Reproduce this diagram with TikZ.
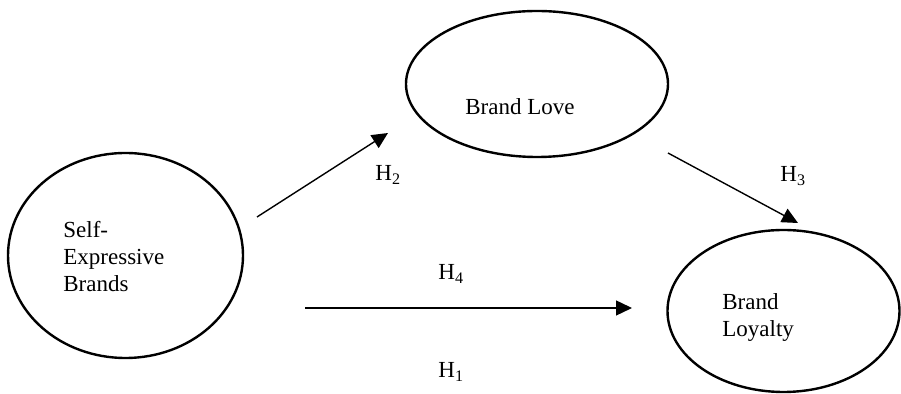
\documentclass[tikz,border=0pt]{standalone}
\usepackage{fontspec}
\setmainfont{Liberation Serif}
\usetikzlibrary{arrows.meta,shapes.geometric}

\begin{document}
\begin{tikzpicture}[x=0.5pt,y=-0.5pt,
    construct/.style={draw,ellipse,line width=1.2pt,inner sep=0pt},
    construct text/.style={font=\fontsize{11.5}{13.5}\selectfont,inner sep=0pt,align=left},
    hyp/.style={font=\fontsize{11.5}{13.5}\selectfont,inner sep=0pt,anchor=base west},
    hyparrow/.style={-{Triangle[length=8pt,width=7.5pt]},line width=0.7pt}]
    \useasboundingbox (0,0) rectangle (901,394);

    % Draw the constructs
    \node[construct,minimum width=117.5pt,minimum height=102.5pt] (seb) at (125.5,255.5) {};
    \node[construct,minimum width=131pt,minimum height=73pt] (love) at (537,84) {};
    \node[construct,minimum width=116pt,minimum height=81pt] (loyal) at (783.5,311) {};

    % Construct names
    \node[construct text,anchor=north west] (sebtext) at (63,221) {Self-\\Expressive\\Brands};
    \node[construct text,anchor=base west] (lovetext) at (465,115) {Brand Love};
    \node[construct text,anchor=north west] (loyaltext) at (722,293) {Brand\\Loyalty};

    % Arrow end points
    \coordinate (h2s) at (257,217);
    \coordinate (h2e) at (388,133);
    \coordinate (h3s) at (668,153);
    \coordinate (h3e) at (798,223);
    \coordinate (h4s) at (305,308);
    \coordinate (h4e) at (632,308);

    % Draw the hypothesised paths
    \draw[hyparrow] (h2s) -- (h2e);
    \draw[hyparrow] (h3s) -- (h3e);
    \draw[hyparrow] (h4s) -- (h4e);

    % Hypothesis labels
    \node[hyp] (h2) at (375,181) {H\textsubscript{2}};
    \node[hyp] (h3) at (780,182) {H\textsubscript{3}};
    \node[hyp] (h4) at (438,280) {H\textsubscript{4}};
    \node[hyp] (h1) at (438,378) {H\textsubscript{1}};
\end{tikzpicture}
\end{document}
